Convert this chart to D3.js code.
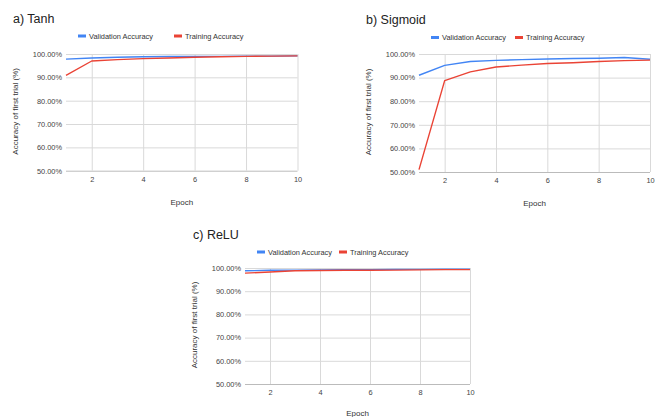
<!DOCTYPE html>
<html><head><meta charset="utf-8">
<script src="https://cdn.jsdelivr.net/npm/d3@7"></script>
<style>body{margin:0;background:#fff}svg{display:block}text{font-family:"Liberation Sans",Arial,sans-serif}</style>
</head><body><svg id="c" width="657" height="417"></svg>
<script>
const epochs = [1,2,3,4,5,6,7,8,9,10];
const xTicks = [2,4,6,8,10];
const yTicks = [50,60,70,80,90,100];
const seriesNames = ["Validation Accuracy","Training Accuracy"];
const seriesColors = ["#4285f4","#ea4335"];
const titles = ["a) Tanh","b) Sigmoid","c) ReLU"];
const tanhVal   = [97.8,98.3,98.6,98.8,98.9,99.0,99.0,99.1,99.1,99.2];
const tanhTrain = [90.8,97.0,97.6,98.0,98.3,98.6,98.8,99.0,99.1,99.2];
const sigVal    = [91.0,95.2,96.8,97.3,97.6,97.9,98.1,98.2,98.5,97.8];
const sigTrain  = [51.0,88.7,92.4,94.5,95.3,96.0,96.3,96.8,97.2,97.4];
const reluVal   = [98.8,99.0,99.1,99.2,99.3,99.3,99.4,99.4,99.5,99.5];
const reluTrain = [97.8,98.3,98.8,98.9,99.0,99.0,99.1,99.2,99.3,99.3];

const panels = [
  {title:titles[0], data:[tanhVal,tanhTrain], x0:66, x1:297.5, yTop:54, yBot:170.7, legX:78, legY:36, trX:174},
  {title:titles[1], data:[sigVal,sigTrain], x0:419, x1:650, yTop:54, yBot:172, legX:431, legY:37.5, trX:515},
  {title:titles[2], data:[reluVal,reluTrain], x0:245, x1:470, yTop:268, yBot:384, legX:257, legY:252, trX:339}
];
const titlePos = [[13,23],[366,24],[193,239]];

const svg = d3.select("#c");
panels.forEach((p,i)=>{
  const g = svg.append("g");
  const x = d3.scaleLinear().domain([1,10]).range([p.x0,p.x1]);
  const y = d3.scaleLinear().domain([50,100]).range([p.yBot,p.yTop]);
  g.append("text").attr("x",titlePos[i][0]).attr("y",titlePos[i][1]).attr("font-size",12.5).attr("fill","#222").text(p.title);
  const legXs=[p.legX,p.trX];
  seriesNames.forEach((n,k)=>{
    g.append("rect").attr("x",legXs[k]).attr("y",p.legY-1.5).attr("width",8).attr("height",3).attr("fill",seriesColors[k]);
    g.append("text").attr("x",legXs[k]+11).attr("y",p.legY+2.6).attr("font-size",7.4).attr("fill","#333").text(n);
  });
  g.append("g").call(d3.axisLeft(y).tickValues(yTicks).tickSize(-(p.x1-p.x0)).tickFormat(d=>d.toFixed(2)+"%"))
    .attr("transform",`translate(${p.x0},0)`)
    .call(a=>{a.select(".domain").remove();
      a.selectAll("line").attr("stroke",d=>d===50?"#bbb":"#d9d9d9").attr("stroke-width",1);
      a.selectAll("text").attr("font-size",7.4).attr("fill","#444").attr("x",-4).attr("dy","0.32em").attr("font-family","Liberation Sans, Arial, sans-serif");});
  g.append("g").call(d3.axisBottom(x).tickValues(xTicks).tickSize(-(p.yBot-p.yTop)).tickFormat(d3.format("d")))
    .attr("transform",`translate(0,${p.yBot})`)
    .call(a=>{a.select(".domain").remove();
      a.selectAll("line").attr("stroke","#d9d9d9").attr("stroke-width",1);
      a.selectAll("text").attr("font-size",7.4).attr("fill","#444").attr("y",6).attr("dy","0.71em").attr("font-family","Liberation Sans, Arial, sans-serif");});
  const line = d3.line().x((d,j)=>x(epochs[j])).y(d=>y(d));
  p.data.forEach((s,k)=>{
    g.append("path").datum(s).attr("d",line).attr("fill","none").attr("stroke",seriesColors[k]).attr("stroke-width",1.4).attr("stroke-linejoin","round");
  });
  g.append("text").attr("x",(p.x0+p.x1)/2).attr("y",Math.min(p.yBot+34,416)).attr("text-anchor","middle").attr("font-size",8).attr("fill","#333").text("Epoch");
  const yc=(p.yTop+p.yBot)/2 - 1;
  const ax = p.x0-48;
  g.append("text").attr("transform",`translate(${ax},${yc}) rotate(-90)`).attr("text-anchor","middle").attr("font-size",8).attr("fill","#333").text("Accuracy of first trial (%)");
});
</script></body></html>
